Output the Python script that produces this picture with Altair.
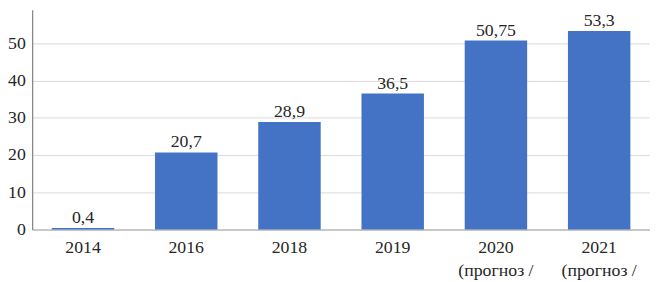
import altair as alt
import pandas as pd

years = ["2014", "2016", "2018", "2019", "2020\n(прогноз /", "2021\n(прогноз /"]
values = [0.4, 20.7, 28.9, 36.5, 50.75, 53.3]
value_labels = ["0,4", "20,7", "28,9", "36,5", "50,75", "53,3"]

df = pd.DataFrame({"year": years, "value": values, "label": value_labels})

FONT = "Times New Roman, Liberation Serif, serif"

x = alt.X(
    "year:N",
    sort=years,
    title=None,
    scale=alt.Scale(paddingInner=0.395, paddingOuter=0.19),
    axis=alt.Axis(
        labelAngle=0,
        labelExpr="split(datum.label, '\\n')",
        labelFont=FONT,
        labelFontSize=18,
        labelColor="#262626",
        labelPadding=9,
        labelLineHeight=24,
        ticks=False,
        domainColor="#a6a6a6",
        domainWidth=1,
        grid=False,
    ),
)

y = alt.Y(
    "value:Q",
    title=None,
    scale=alt.Scale(domain=[0, 59.0], nice=False, zero=True),
    axis=alt.Axis(
        values=[0, 10, 20, 30, 40, 50],
        labelFont=FONT,
        labelFontSize=18,
        labelColor="#262626",
        labelPadding=7,
        ticks=False,
        domainColor="#7f7f7f",
        domainWidth=1.2,
        gridColor="#d9d9d9",
        gridWidth=1,
    ),
)

bars = alt.Chart(df).mark_bar(color="#4472C4").encode(x=x, y=y)

text = alt.Chart(df).mark_text(
    font=FONT, fontSize=18, color="#262626", baseline="alphabetic", dy=-5
).encode(x=alt.X("year:N", sort=years), y="value:Q", text="label:N")

chart = (
    alt.layer(bars, text)
    .properties(
        width=626,
        height=222.5,
        autosize=alt.AutoSizeParams(type="none"),
        padding={"left": 24.5, "top": 0, "right": 0, "bottom": 60},
    )
    .configure_view(stroke=None)
)

chart.save("out.html", embed_options={"renderer": "svg", "actions": False})
